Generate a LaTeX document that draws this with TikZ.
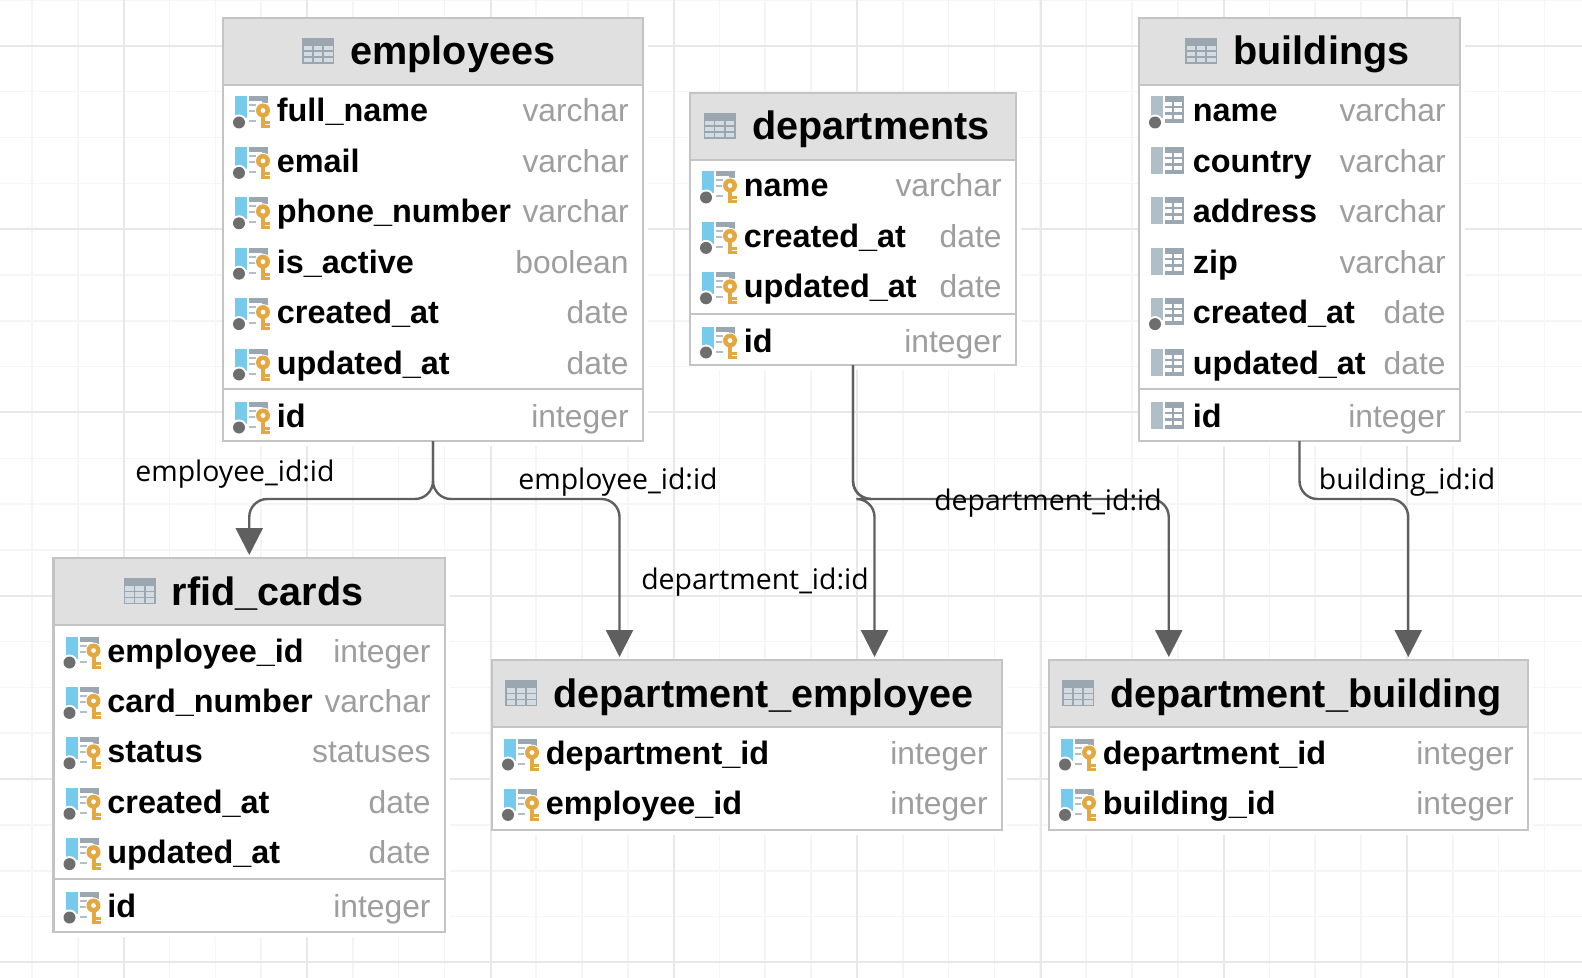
\documentclass[tikz,border=0pt]{standalone}
\usepackage{fontspec}
\setmainfont{Liberation Sans}
\newfontfamily\labelfont{Open Sans}
\usetikzlibrary{arrows.meta,calc}

\definecolor{gridminor}{HTML}{F5F5F5}
\definecolor{gridmajor}{HTML}{E8E8E8}
\definecolor{boxline}{HTML}{C4C4C4}
\definecolor{headfill}{HTML}{E0E0E0}
\definecolor{typegray}{HTML}{9E9E9E}
\definecolor{iconblue}{HTML}{76CBEC}
\definecolor{icongray}{HTML}{9AA7B0}
\definecolor{iconpale}{HTML}{B0BEC8}
\definecolor{iconkey}{HTML}{E3A83F}
\definecolor{icondot}{HTML}{6E6E6E}
\definecolor{relline}{HTML}{5F5F5F}

\tikzset{
  tablebox/.style={draw=boxline, line width=1.2pt, fill=white, rectangle, inner sep=0pt, outer sep=0pt, anchor=north west},
  tablehead/.style={fill=headfill, rectangle, inner sep=0pt, outer sep=0pt, anchor=north west},
  tabletitle/.style={font=\bfseries\fontsize{19.8}{22}\selectfont, inner sep=0pt, anchor=base west},
  colname/.style={font=\bfseries\fontsize{16.2}{18}\selectfont, inner sep=0pt, anchor=base west},
  coltype/.style={font=\fontsize{15.9}{18}\selectfont, text=typegray, inner sep=0pt, anchor=base east},
  rellabel/.style={font=\labelfont\fontsize{14.2}{16}\selectfont, inner sep=0pt},
  relation/.style={draw=relline, line width=1.2pt, rounded corners=9pt, shorten >=1.5pt, -{Triangle[length=13.5pt,width=13.5pt]}},
}

% column icons, drawn around (0,0) at the left end of a row
\newcommand{\dotmark}{
  \fill[white] (4,11) circle (4pt);
  \fill[icondot] (4,11) circle (3pt);
}
\newcommand{\iconkeycol}{
  \fill[iconblue] (0,-15) rectangle (12,7);
  \dotmark
  \fill[icongray] (14,-15) rectangle (33,-10);
  \fill[icongray] (27,-15) rectangle (33,-8);
  \fill[iconpale] (14,-7) rectangle (21,-5);
  \fill[iconpale] (14,-1) rectangle (21,1);
  \fill[iconpale] (14,9) rectangle (21,11);
  \fill[white] (28,-1) circle (4pt);
  \fill[iconkey] (28,-1) circle (3.5pt);
  \fill[white] (28,-1) circle (1.2pt);
  \fill[iconkey] (26,4) rectangle (30,17);
  \fill[iconkey] (30,10) rectangle (35,13);
  \fill[iconkey] (30,14) rectangle (35,17);
}
\newcommand{\iconplain}{
  \fill[iconpale] (0,-15) rectangle (12,12);
  \fill[icongray] (14,-15) rectangle (33,12);
  \fill[white] (14,-9) rectangle (21,-5);
  \fill[white] (14,-3) rectangle (21,1);
  \fill[white] (14,4) rectangle (21,8);
  \fill[white] (23,-9) rectangle (31,-5);
  \fill[white] (23,-3) rectangle (31,1);
  \fill[white] (23,4) rectangle (31,8);
}
\newcommand{\iconplaindot}{
  \fill[iconpale] (0,-15) rectangle (12,7);
  \dotmark
  \fill[icongray] (14,-15) rectangle (33,12);
  \fill[white] (14,-9) rectangle (21,-5);
  \fill[white] (14,-3) rectangle (21,1);
  \fill[white] (14,4) rectangle (21,8);
  \fill[white] (23,-9) rectangle (31,-5);
  \fill[white] (23,-3) rectangle (31,1);
  \fill[white] (23,4) rectangle (31,8);
}

% \dbtable{name}{x}{y}{width}{height}{title x}{title}{rows}
\newcommand{\dbtable}[8]{
  \fill[white] (#2,#3) rectangle ++(#4+5,#5+5);
  \node (#1) [tablebox, minimum width=#4*0.5pt, minimum height=#5*0.5pt] at (#2,#3) {};
  \node (#1-head) [tablehead, minimum width=#4*0.5pt-1.2pt, minimum height=33pt] at (#2+1.2,#3+1.2) {};
  \draw[draw=boxline, line width=1.2pt] (#1-head.south west) -- (#1-head.south east);
  \begin{scope}[shift={(#2+#6-48,#3+20)}]
    \fill[icongray] (0,0) rectangle (32,26);
    \foreach \cx in {1.5,11.5,22}
      \foreach \cy in {8,14,20}
        \fill[iconpale!55!white] (\cx,\cy) rectangle ++(8.5,4.5);
  \end{scope}
  \node (#1-title) [tabletitle] at (#2+#6,#3+47) {#7};
  \foreach \colname/\coltype/\colicon [count=\i] in {#8} {
    \pgfmathsetmacro\coly{#3+93.5+(\i-1)*50.4}
    \begin{scope}[shift={(#2+12,\coly)}]
      \colicon
    \end{scope}
    \node (#1-col-\i) [colname] at (#2+53.5,\coly+10.5) {\colname};
    \node (#1-type-\i) [coltype] at (#2+#4-14,\coly+10.5) {\coltype};
  }
}
% \idrow{name}{x}{y of separator}{width}{icon}
\newcommand{\idrow}[5]{
  \draw[draw=boxline, line width=1.2pt] (#2,#3) -- ++(#4,0);
  \begin{scope}[shift={(#2+12,#3+27.5)}]
    #5
  \end{scope}
  \node (#1-col-id) [colname] at (#2+53.5,#3+38) {id};
  \node (#1-type-id) [coltype] at (#2+#4-14,#3+38) {integer};
}

\begin{document}
\begin{tikzpicture}[x=0.5pt,y=-0.5pt]
  \useasboundingbox (0,0) rectangle (1582,978);

  % background grid
  \foreach \k in {0,...,33} {
    \pgfmathsetmacro\gx{32+45.83*\k}
    \draw[gridminor, line width=0.8pt] (\gx,0) -- (\gx,978);
  }
  \foreach \k in {0,...,21} {
    \pgfmathsetmacro\gy{45.83*\k}
    \draw[gridminor, line width=0.8pt] (0,\gy) -- (1582,\gy);
  }
  \foreach \k in {0,...,7} {
    \pgfmathsetmacro\gx{124+183.32*\k}
    \draw[gridmajor, line width=1pt] (\gx,0) -- (\gx,978);
  }
  \foreach \k in {0,...,5} {
    \pgfmathsetmacro\gy{45.83+183.32*\k}
    \draw[gridmajor, line width=1pt] (0,\gy) -- (1582,\gy);
  }

  % tables
  \dbtable{employees}{223}{18}{420}{423}{127}{employees}{
    full\_name/varchar/\iconkeycol, email/varchar/\iconkeycol, phone\_number/varchar/\iconkeycol,
    is\_active/boolean/\iconkeycol, created\_at/date/\iconkeycol, updated\_at/date/\iconkeycol}
  \idrow{employees}{223}{389}{420}{\iconkeycol}

  \dbtable{departments}{690}{93}{326}{272}{61.6}{departments}{
    name/varchar/\iconkeycol, created\_at/date/\iconkeycol, updated\_at/date/\iconkeycol}
  \idrow{departments}{690}{314}{326}{\iconkeycol}

  \dbtable{buildings}{1139}{18}{321}{423}{94}{buildings}{
    name/varchar/\iconplaindot, country/varchar/\iconplain, address/varchar/\iconplain,
    zip/varchar/\iconplain, created\_at/date/\iconplaindot, updated\_at/date/\iconplain}
  \idrow{buildings}{1139}{389}{321}{\iconplain}

  \dbtable{rfid-cards}{53.5}{558}{391.5}{374}{118}{rfid\_cards}{
    employee\_id/integer/\iconkeycol, card\_number/varchar/\iconkeycol, status/statuses/\iconkeycol,
    created\_at/date/\iconkeycol, updated\_at/date/\iconkeycol}
  \idrow{rfid-cards}{53.5}{879}{391.5}{\iconkeycol}

  \dbtable{dept-employee}{492}{660}{510}{170}{61}{department\_employee}{
    department\_id/integer/\iconkeycol, employee\_id/integer/\iconkeycol}

  \dbtable{dept-building}{1049}{660}{479}{170}{61}{department\_building}{
    department\_id/integer/\iconkeycol, building\_id/integer/\iconkeycol}

  % where the relations turn
  \coordinate (bus-employees) at (433,499);
  \coordinate (bus-departments) at (853,499);
  \coordinate (bus-buildings) at (1299.5,499);
  \coordinate (in-emp-left) at ($(dept-employee.north west)!0.25!(dept-employee.north east)$);
  \coordinate (in-emp-right) at ($(dept-employee.north west)!0.75!(dept-employee.north east)$);
  \coordinate (in-bld-left) at ($(dept-building.north west)!0.25!(dept-building.north east)$);
  \coordinate (in-bld-right) at ($(dept-building.north west)!0.75!(dept-building.north east)$);

  % relations
  \draw[relation] (employees.south) -- (bus-employees) -| (rfid-cards.north);
  \draw[relation] (employees.south) -- (bus-employees) -| (in-emp-left);
  \draw[relation] (departments.south) -- (bus-departments) -| (in-emp-right);
  \draw[relation] (departments.south) -- (bus-departments) -| (in-bld-left);
  \draw[relation] (buildings.south) -- (bus-buildings) -| (in-bld-right);

  % relation labels
  \node (label-rfid) [rellabel] at (235,474) {employee\_id:id};
  \node (label-emp) [rellabel] at (618,482) {employee\_id:id};
  \node (label-dep-emp) [rellabel] at (755,582) {department\_id:id};
  \node (label-dep-bld) [rellabel] at (1048,503) {department\_id:id};
  \node (label-bld) [rellabel] at (1407,482) {building\_id:id};
\end{tikzpicture}
\end{document}
